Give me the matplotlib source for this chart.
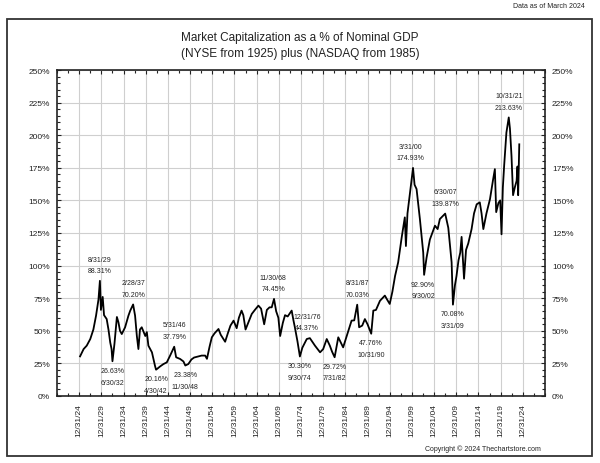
import matplotlib
matplotlib.use('Agg')
import matplotlib.pyplot as plt
from matplotlib.ticker import MultipleLocator, FuncFormatter
from matplotlib.patches import Rectangle

plt.rcParams['font.family'] = ['Liberation Sans', 'DejaVu Sans']

# market cap as % of nominal GDP (decimal years)
years = [
    1925.2, 1926.0, 1926.7, 1927.5, 1928.2, 1928.8, 1929.35, 1929.67, 1929.9, 1930.3,
    1930.6, 1931.2, 1931.6, 1932.0, 1932.3, 1932.5, 1932.95, 1933.5, 1933.85, 1934.2,
    1934.6, 1935.35, 1936.1, 1936.5, 1937.16, 1937.6, 1938.0, 1938.35, 1938.7, 1939.1,
    1939.9, 1940.25, 1940.6, 1941.4, 1942.1, 1942.33, 1943.25, 1944.0, 1944.75, 1945.5,
    1946.42, 1946.85, 1947.75, 1948.5, 1948.92, 1949.6, 1950.3, 1950.9, 1951.9, 1952.6,
    1953.4, 1953.8, 1954.4, 1954.9, 1955.5, 1956.4, 1956.9, 1957.9, 1958.5, 1959.1,
    1959.8, 1960.5, 1961.0, 1961.6, 1962.0, 1962.5, 1963.2, 1963.9, 1964.6, 1965.4,
    1966.0, 1966.7, 1967.3, 1967.9, 1968.4, 1968.92, 1969.4, 1969.9, 1970.3, 1970.9,
    1971.4, 1972.0, 1972.9, 1973.3, 1973.6, 1974.2, 1974.75, 1975.3, 1976.3, 1977.0,
    1978.15, 1979.3, 1980.0, 1980.8, 1981.5, 1982.0, 1982.58, 1983.4, 1984.5, 1985.3,
    1986.4, 1987.0, 1987.67, 1988.1, 1988.8, 1989.4, 1990.0, 1990.83, 1991.3, 1991.9,
    1992.8, 1993.9, 1994.4, 1995.0, 1995.6, 1996.2, 1996.9, 1997.7, 1998.4, 1998.65,
    1999.0, 1999.5, 1999.9, 2000.25, 2000.6, 2001.05, 2001.8, 2002.55, 2002.75, 2003.3,
    2004.05, 2005.2, 2005.8, 2006.3, 2007.5, 2008.2, 2008.95, 2009.25, 2009.7, 2010.05,
    2010.5, 2010.9, 2011.2, 2011.75, 2012.2, 2012.7, 2013.45, 2014.0, 2014.6, 2015.3,
    2015.7, 2016.1, 2016.8, 2017.6, 2018.3, 2018.7, 2019.0, 2019.5, 2019.9, 2020.2,
    2020.5, 2020.8, 2021.3, 2021.83, 2022.1, 2022.45, 2022.8, 2023.2, 2023.6, 2023.8,
    2023.95, 2024.2,
]
pct = [
    30.4, 36, 38.6, 43.7, 51, 61.6, 74, 88.31, 66, 76,
    62, 59, 51, 41, 36, 26.63, 40, 60.6, 56.5, 50,
    47.5, 52.7, 61.6, 65.4, 70.20, 61.6, 46, 36, 51, 52.7,
    46, 49, 38.6, 33.5, 23, 20.16, 22.7, 24.5, 25.8, 31,
    37.79, 29.7, 28.4, 26.5, 23.38, 24.5, 28, 29.5, 30.4, 31,
    31, 28.5, 38, 45, 48, 51.4, 47, 41.6, 48, 54,
    57.8, 52, 60, 65.5, 62, 51, 57, 62.9, 66, 69.3,
    67, 55, 66, 68, 68, 74.45, 65, 60, 46, 56,
    62, 61, 65.5, 58, 53, 42, 30.30, 37, 43.7, 44.37,
    38.6, 33.5, 36, 43.7, 38.6, 34, 29.72, 45, 37.3, 46,
    57.8, 58, 70.03, 52.7, 54, 59, 55, 47.76, 65.5, 66,
    73, 77, 74, 70.6, 80, 92, 102.5, 121.7, 137, 115,
    140, 153.6, 165, 174.93, 162, 158.7, 135.7, 110, 92.90, 106,
    120, 130.6, 128, 135.7, 139.87, 129, 102.5, 70.08, 85, 92,
    104, 110, 122, 90, 112, 117, 128, 140, 147, 148.5,
    140, 128, 140, 151, 166, 174, 141, 148, 150, 124,
    160, 177, 202, 213.63, 205, 184, 154, 160, 165, 176,
    154, 193,
]

# labelled highs / lows
note_x = [1929.67, 1937.16, 1932.5, 1942.33, 1946.42, 1948.92, 1968.92, 1976.99, 1974.75,
          1982.58, 1987.67, 1990.83, 2000.25, 2002.75, 2007.5, 2009.25, 2021.83]
note_y = [88.31, 70.20, 26.63, 20.16, 37.79, 23.38, 74.45, 44.37, 30.30,
          29.72, 70.03, 47.76, 174.93, 92.90, 139.87, 70.08, 213.63]
note_dates = ['8/31/29', '2/28/37', '6/30/32', '4/30/42', '5/31/46', '11/30/48', '11/30/68',
              '12/31/76', '9/30/74', '7/31/82', '8/31/87', '10/31/90', '3/31/00', '9/30/02',
              '6/30/07', '3/31/09', '10/31/21']
note_above = [True, True, False, False, True, False, True, True, False,
              False, True, False, True, False, True, False, True]
note_dx = [0, 0, 0, 0, 0, 0, -1, -3, 0, 0, 0, 0, -3, -1, 0, 0, 0]

tick_years = [1925, 1930, 1935, 1940, 1945, 1950, 1955, 1960, 1965, 1970, 1975,
              1980, 1985, 1990, 1995, 2000, 2005, 2010, 2015, 2020, 2025]
tick_labels = ['12/31/24', '12/31/29', '12/31/34', '12/31/39', '12/31/44', '12/31/49',
               '12/31/54', '12/31/59', '12/31/64', '12/31/69', '12/31/74', '12/31/79',
               '12/31/84', '12/31/89', '12/31/94', '12/31/99', '12/31/04', '12/31/09',
               '12/31/14', '12/31/19', '12/31/24']

fig = plt.figure(figsize=(6, 4.64), dpi=100)
ax = fig.add_axes([57 / 600, 67 / 464, 488 / 600, 326 / 464])

ax.plot(years, pct, color='black', lw=1.3, zorder=3)

for x, y, d, up, dx in zip(note_x, note_y, note_dates, note_above, note_dx):
    v = f'{y:.2f}%'
    txt = f'{d}\n{v}' if up else f'{v}\n{d}'
    ax.annotate(txt, xy=(x, y), xytext=(dx, 16 if up else -15), textcoords='offset pixels',
                ha='center', va='center', fontsize=5, linespacing=1.9, color='#222222')

ax.set_xlim(1920, 2030)
ax.set_ylim(0, 250)
ax.set_xticks(tick_years)
ax.set_xticklabels(tick_labels, rotation=90)
ax.xaxis.set_minor_locator(MultipleLocator(2.5))
ax.yaxis.set_major_locator(MultipleLocator(25))
ax.yaxis.set_minor_locator(MultipleLocator(5))
ax.yaxis.set_major_formatter(FuncFormatter(lambda v, p: f'{v:.0f}%'))
ax.tick_params(which='both', direction='in', top=True, right=True, labelright=True,
               labelsize=6, colors='#222222', width=0.8)
ax.tick_params(which='major', length=3, pad=5)
ax.tick_params(which='minor', length=2)
ax.grid(which='major', color='#cfcfcf', lw=0.8, zorder=0)
for s in ax.spines.values():
    s.set_linewidth(1.2)
    s.set_color('#222222')

fig.text(300 / 600, 1 - 46 / 464,
         'Market Capitalization as a % of Nominal GDP\n(NYSE from 1925) plus (NASDAQ from 1985)',
         ha='center', va='center', fontsize=8.5, linespacing=1.45, color='#222222')
fig.text(585 / 600, 1 - 7 / 464, 'Data as of March 2024', ha='right', va='center',
         fontsize=5, color='#222222')
fig.text(541 / 600, 1 - 449 / 464, 'Copyright \u00a9 2024 Thechartstore.com', ha='right',
         va='center', fontsize=5, color='#222222')

fig.patches.append(Rectangle((7 / 600, 7 / 464), 585 / 600, 437 / 464, transform=fig.transFigure,
                             fill=False, ec='#333333', lw=1.3))

fig.savefig('out.png', dpi=100)
